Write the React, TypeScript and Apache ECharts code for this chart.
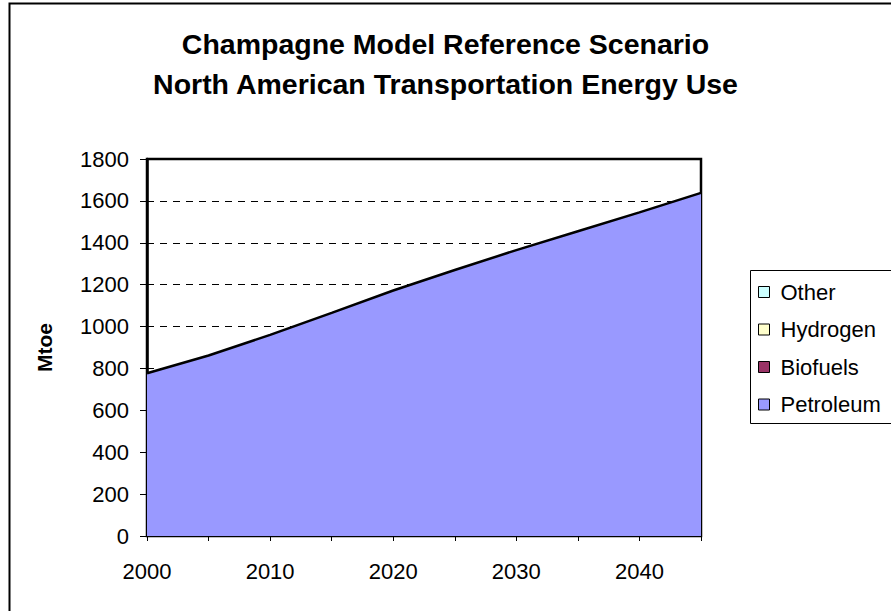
import React, { useEffect, useRef } from "react";
import * as echarts from "echarts";

const years = [2000, 2005, 2010, 2015, 2020, 2025, 2030, 2035, 2040, 2045];
const petroleum = [777, 862, 960, 1065, 1172, 1270, 1365, 1455, 1545, 1638];
const biofuels = [3, 4, 6, 8, 9, 9, 9, 9, 9, 9];
const hydrogen = [0, 0, 0, 0, 0, 0, 0, 0, 0, 0];
const other = [0, 0, 0, 0, 0, 0, 0, 0, 0, 0];
const legendOrder = ["Other", "Hydrogen", "Biofuels", "Petroleum"];
const titleLines = [
  "Champagne Model Reference Scenario",
  "North American Transportation Energy Use",
];

const FONT = "Liberation Sans, Arial, sans-serif";

export default function App() {
  const ref = useRef<HTMLDivElement>(null);
  useEffect(() => {
    document.body.style.margin = "0";
    const chart = echarts.init(ref.current!, null, { renderer: "svg" });
    const mk = (name: string, vals: number[], color: string) => ({
      name,
      type: "line",
      stack: "total",
      symbol: "none",
      data: years.map((y, i) => [y, vals[i]]),
      lineStyle: { color: "#000", width: 2.5 },
      itemStyle: { color, borderColor: "#000", borderWidth: 1 },
      areaStyle: { color, opacity: 1 },
    });
    chart.setOption({
      animation: false,
      backgroundColor: "#fff",
      title: {
        text: titleLines.join("\n"),
        left: "center",
        top: 19,
        textStyle: {
          fontFamily: FONT,
          fontSize: 28.5,
          fontWeight: "bold",
          color: "#000",
          lineHeight: 40,
        },
      },
      graphic: [
        {
          type: "rect",
          shape: { x: 9.5, y: 3.5, width: 1000, height: 1000 },
          style: { fill: "none", stroke: "#000", lineWidth: 2 },
          silent: true,
        },
        {
          type: "rect",
          shape: { x: 750.5, y: 270.5, width: 200, height: 153 },
          style: { fill: "#fff", stroke: "#000", lineWidth: 1 },
          silent: true,
          z: -1,
        },
      ],
      legend: {
        orient: "vertical",
        left: 753,
        top: 276,
        itemWidth: 11,
        itemHeight: 11,
        itemGap: 15.5,
        icon: "rect",
        data: legendOrder,
        itemStyle: { borderColor: "#000", borderWidth: 1 },
        textStyle: { fontFamily: FONT, fontSize: 22, color: "#000", lineHeight: 22, padding: [0, 0, 0, 6] },
      },
      grid: {
        left: 147,
        top: 159,
        width: 554,
        height: 377,
        show: true,
        borderColor: "#000",
        borderWidth: 2.5,
        containLabel: false,
      },
      xAxis: {
        type: "value",
        min: 2000,
        max: 2045,
        interval: 5,
        axisLine: { lineStyle: { color: "#000", width: 1.5 } },
        axisTick: { length: 5, lineStyle: { color: "#000" } },
        axisLabel: {
          margin: 24,
          fontFamily: FONT,
          fontSize: 22,
          color: "#000",
          formatter: (v: number) => (v % 10 === 0 && v < 2045 ? String(v) : ""),
        },
        splitLine: { show: false },
      },
      yAxis: {
        type: "value",
        min: 0,
        max: 1800,
        interval: 200,
        name: "Mtoe",
        nameLocation: "middle",
        nameGap: 92,
        nameTextStyle: { fontFamily: FONT, fontSize: 21, fontWeight: "bold", color: "#000" },
        axisLine: { show: true, lineStyle: { color: "#000", width: 2.5 } },
        axisTick: { show: true, length: 7, lineStyle: { color: "#000" } },
        axisLabel: {
          margin: 18,
          fontFamily: FONT,
          fontSize: 22,
          color: "#000",
          formatter: (v: number) => String(v),
        },
        splitLine: { show: true, lineStyle: { color: "#000", type: [7, 6], width: 1 } },
      },
      series: [
        mk("Petroleum", petroleum, "#9999FF"),
        mk("Biofuels", biofuels, "#993366"),
        mk("Hydrogen", hydrogen, "#FFFFCC"),
        mk("Other", other, "#CCFFFF"),
      ],
    });
    return () => chart.dispose();
  }, []);
  return <div ref={ref} style={{ width: 891, height: 611 }} />;
}
